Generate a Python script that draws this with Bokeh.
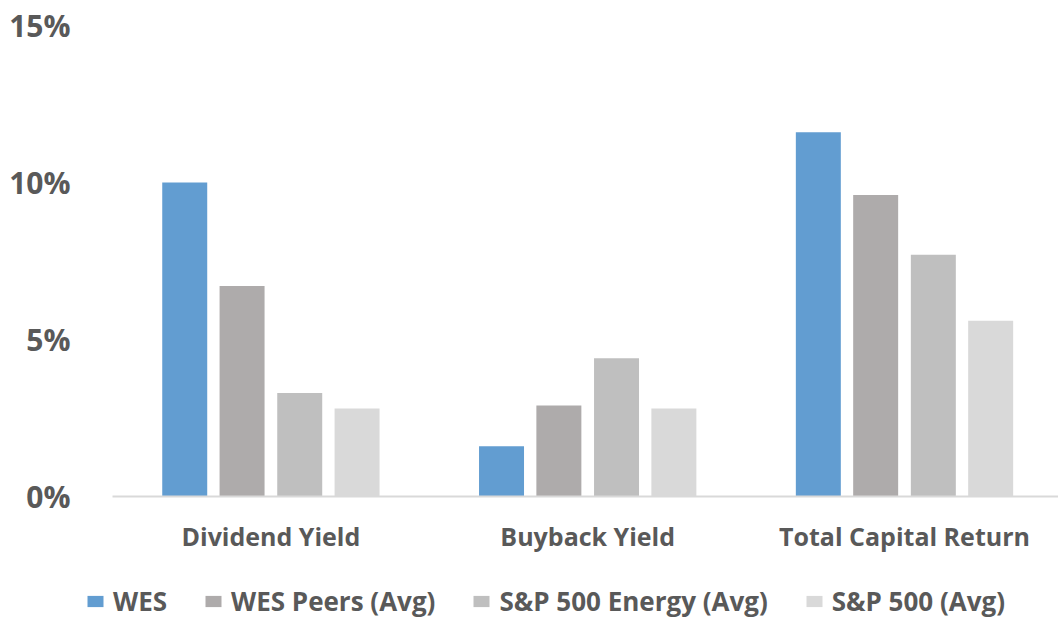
from bokeh.plotting import figure
from bokeh.models import (ColumnDataSource, Range1d, FixedTicker, Legend, LegendItem,
                          LinearAxis)
from bokeh.transform import dodge
from bokeh.embed import file_html
from bokeh.resources import INLINE

# Capital return comparison (percent)
categories = ["Dividend Yield", "Buyback Yield", "Total Capital Return"]
wes = [10.0, 1.6, 11.6]
wes_peers = [6.7, 2.9, 9.6]
sp500_energy = [3.3, 4.4, 7.7]
sp500 = [2.8, 2.8, 5.6]
series_names = ["WES", "WES Peers (Avg)", "S&P 500 Energy (Avg)", "S&P 500 (Avg)"]
series_colors = ["#629dd1", "#aeabab", "#bfbfbf", "#d9d9d9"]
y_ticks = [0, 5, 10, 15]

FONT = "Open Sans"
TEXT = "#595959"

centers = [i + 0.5 for i in range(len(categories))]
source = ColumnDataSource(data=dict(
    x=centers, wes=wes, peers=wes_peers, energy=sp500_energy, sp=sp500,
))

# frame runs from x=80 px to the right edge; one category = 316.8 px
X_START = -32 / 316.8
X_END = 946 / 316.8
# frame runs from y=25 px to the bottom edge; 1% = 31.4 px
Y_START = 15 - 594 / 31.4

p = figure(width=1058, height=619, output_backend="svg", toolbar_location=None,
           x_range=Range1d(X_START, X_END), y_range=Range1d(Y_START, 15),
           x_axis_location=None,
           min_border_left=80, min_border_right=0, min_border_top=25,
           min_border_bottom=0)
p.outline_line_color = None
p.background_fill_color = "white"
p.border_fill_color = "white"
p.xgrid.visible = False
p.ygrid.visible = False

fields = ["wes", "peers", "energy", "sp"]
offsets = [-0.272, -0.091, 0.091, 0.272]
items = []
for f, off, c, name in zip(fields, offsets, series_colors, series_names):
    r = p.vbar(x=dodge("x", off), top=f, bottom=0, width=0.142, source=source,
               fill_color=c, line_color=None)
    items.append(LegendItem(label=name, renderers=[r]))

# y axis: percent labels only
p.yaxis.ticker = FixedTicker(ticks=y_ticks)
p.yaxis.major_label_overrides = {t: f"{t}%" for t in y_ticks}
p.yaxis.axis_line_color = None
p.yaxis.major_tick_line_color = None
p.yaxis.minor_tick_line_color = None
p.yaxis.major_label_standoff = 4
p.yaxis.major_label_text_font = FONT
p.yaxis.major_label_text_font_size = "30px"
p.yaxis.major_label_text_font_style = "bold"
p.yaxis.major_label_text_color = TEXT

# category axis pinned to the 0% baseline
xaxis = LinearAxis(fixed_location=0, bounds=(0, X_END))
xaxis.ticker = FixedTicker(ticks=centers)
xaxis.major_label_overrides = {c: n for c, n in zip(centers, categories)}
xaxis.axis_line_color = "#d9d9d9"
xaxis.axis_line_width = 2
xaxis.major_tick_line_color = None
xaxis.minor_tick_line_color = None
xaxis.major_label_standoff = 16
xaxis.major_label_text_font = FONT
xaxis.major_label_text_font_size = "25px"
xaxis.major_label_text_font_style = "bold"
xaxis.major_label_text_color = TEXT
p.add_layout(xaxis, "below")

# legend row under the category labels
legend = Legend(items=items, orientation="horizontal", location=(5, 0),
                border_line_color=None, background_fill_alpha=0,
                glyph_width=20, glyph_height=14, label_standoff=8, spacing=36,
                label_text_font=FONT, label_text_font_size="26px",
                label_text_font_style="bold", label_text_color=TEXT,
                padding=0, margin=0)
p.add_layout(legend, "center")

open("out.html", "w").write(file_html(p, INLINE))
